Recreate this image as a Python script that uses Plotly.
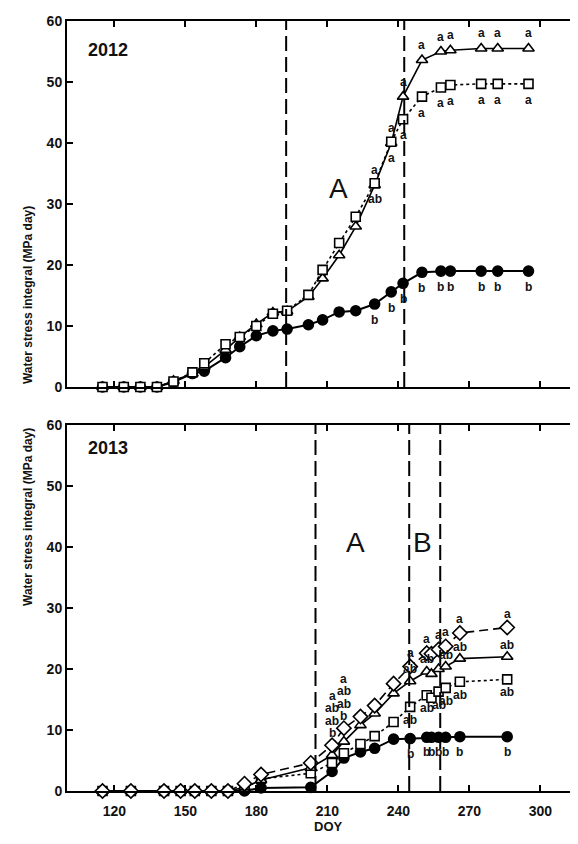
import plotly.graph_objects as go
from plotly.subplots import make_subplots

# ---------------- data ----------------
doy_2012 = [115, 124, 131, 138, 145, 153, 158, 167, 173, 180, 187, 193, 202, 208, 215,
            222, 230, 237, 242, 250, 258, 262, 275, 282, 295]
circ_2012 = [0, 0, 0, 0, 0.8, 2.2, 2.6, 4.8, 6.6, 8.4, 9.2, 9.5, 10.2, 11.0, 12.3,
             12.5, 13.6, 15.6, 17.0, 18.8, 19.0, 19.0, 19.0, 19.0, 19.0]
tri_2012 = [0, 0, 0, 0, 1.0, 2.2, 3.3, 6.1, 8.2, 10.3, 12.2, 12.4, 14.8, 17.8, 21.6,
            26.3, 33.1, 40.0, 47.6, 53.6, 55.0, 55.2, 55.5, 55.5, 55.5]
sq_2012 = [0, 0, 0, 0, 0.9, 2.4, 3.9, 7.0, 8.2, 10.0, 12.0, 12.5, 15.1, 19.2, 23.6,
           27.9, 33.4, 40.2, 43.9, 47.6, 49.1, 49.5, 49.7, 49.7, 49.7]

doy_2013 = [115, 127, 141, 148, 154, 161, 168, 175, 182, 203, 212, 217, 224, 230, 238,
            245, 252, 254, 257, 260, 266, 286]
circ_2013 = [0, 0, 0, 0, 0, 0, 0, 0, 0.5, 0.6, 3.2, 5.4, 6.4, 7.0, 8.5,
             8.6, 8.8, 8.8, 8.8, 8.8, 8.9, 8.9]
dia_2013 = [0, 0, 0, 0, 0, 0, 0, 1.2, 2.7, 4.6, 7.5, 10.3, 12.2, 14.0, 17.6,
            20.4, 22.6, 22.5, 23.2, 23.7, 25.9, 26.8]
tri_2013 = [0, 0, 0, 0, 0, 0, 0, 0.6, 1.8, 3.8, 5.9, 8.1, 10.8, 12.7, 16.0,
            18.0, 19.6, 19.2, 20.0, 20.4, 21.7, 22.0]
sq_2013 = [0, 0, 0, 0, 0, 0, 0, 0.4, 2.0, 2.9, 4.6, 6.2, 7.7, 9.0, 11.3,
           13.8, 15.7, 15.3, 16.3, 16.9, 17.9, 18.3]

# period boundaries (DOY)
periods_2012 = [192.6, 242.5]
periods_2013 = [205.0, 244.6, 257.7]

# significance letters (DOY -> letter)
tri_2012_letters = {230: "a", 237: "a", 242: "a", 250: "a", 258: "a", 262: "a", 275: "a", 282: "a", 295: "a"}
sq_2012_letters = {230: "ab", 237: "a", 242: "a", 250: "a", 258: "a", 262: "a", 275: "a", 282: "a", 295: "a"}
circ_2012_letters = {230: "b", 237: "b", 242: "b", 250: "b", 258: "b", 262: "b", 275: "b", 282: "b", 295: "b"}

dia_2013_letters = {245: "a", 252: "a", 257: "a", 260: "a", 266: "a", 286: "a"}
tri_2013_letters = {245: "ab", 252: "ab", 260: "ab", 266: "ab", 286: "ab"}
sq_2013_letters = {245: "ab", 252: "ab", 257: "ab", 260: "ab", 266: "ab", 286: "ab"}
circ_2013_letters = {245: "b", 252: "b", 254: "b", 257: "b", 260: "b", 266: "b", 286: "b"}
stack_2013_letters = {212: ["b", "ab", "ab", "a"], 217: ["b", "ab", "ab", "a"]}

x_ticks = [120, 150, 180, 210, 240, 270, 300]
y_ticks = [0, 10, 20, 30, 40, 50, 60]

# ---------------- figure ----------------
FONT = "Liberation Sans, Arial, sans-serif"
fig = make_subplots(rows=2, cols=1)


def add_series(row, x, y, symbol, size, fill, dash, lw):
    fig.add_trace(go.Scatter(
        x=x, y=y, mode="lines+markers", cliponaxis=False,
        line=dict(color="black", width=lw, dash=dash),
        marker=dict(symbol=symbol, size=size, color=fill,
                    line=dict(color="black", width=1.6)),
        showlegend=False), row=row, col=1)


# 2012 panel
add_series(1, doy_2012, circ_2012, "circle", 10, "black", "solid", 2)
add_series(1, doy_2012, tri_2012, "triangle-up", 10, "white", "solid", 1.6)
add_series(1, doy_2012, sq_2012, "square", 9, "white", "dot", 1.6)

# 2013 panel
add_series(2, doy_2013, circ_2013, "circle", 10, "black", "solid", 2)
add_series(2, doy_2013, sq_2013, "square", 9, "white", "dot", 1.6)
add_series(2, doy_2013, tri_2013, "triangle-up", 10, "white", "solid", 1.6)
add_series(2, doy_2013, dia_2013, "diamond", 11, "white", "9px,5px", 1.6)

# dashed period lines
for row, periods in ((1, periods_2012), (2, periods_2013)):
    sfx = "" if row == 1 else "2"
    for p in periods:
        fig.add_shape(type="line", x0=p, x1=p, y0=0, y1=60, xref="x" + sfx, yref="y" + sfx,
                      line=dict(color="black", width=2, dash="15px,6px"))

letter_font = dict(family=FONT, size=12, color="#111", weight="bold")


def add_letters(row, days, vals, letters, shift):
    xr = "x" if row == 1 else "x2"
    yr = "y" if row == 1 else "y2"
    for d, l in letters.items():
        v = vals[days.index(d)]
        fig.add_annotation(x=d, y=v, xref=xr, yref=yr, text=l, showarrow=False,
                           yshift=shift, font=letter_font)


add_letters(1, doy_2012, tri_2012, tri_2012_letters, 15)
add_letters(1, doy_2012, sq_2012, sq_2012_letters, -16)
add_letters(1, doy_2012, circ_2012, circ_2012_letters, -16)

add_letters(2, doy_2013, dia_2013, dia_2013_letters, 14)
add_letters(2, doy_2013, tri_2013, tri_2013_letters, 12)
add_letters(2, doy_2013, sq_2013, sq_2013_letters, -13)
add_letters(2, doy_2013, circ_2013, circ_2013_letters, -15)
for d, stack in stack_2013_letters.items():
    v = dia_2013[doy_2013.index(d)]
    for i, l in enumerate(stack):
        fig.add_annotation(x=d, y=v, xref="x2", yref="y2", text=l, showarrow=False,
                           yshift=12 + 12.5 * i, font=letter_font)

# panel texts
big = dict(family=FONT, size=28, color="#111")
fig.add_annotation(x=214.6, y=32.6, xref="x", yref="y", text="A", showarrow=False, font=big)
fig.add_annotation(x=221.8, y=40.7, xref="x2", yref="y2", text="A", showarrow=False, font=big)
fig.add_annotation(x=250.1, y=40.7, xref="x2", yref="y2", text="B", showarrow=False, font=big)
yr_font = dict(family=FONT, size=18, color="#111", weight="bold")
fig.add_annotation(x=117.4, y=55.2, xref="x", yref="y", text="2012", showarrow=False, font=yr_font)
fig.add_annotation(x=117.4, y=56.2, xref="x2", yref="y2", text="2013", showarrow=False, font=yr_font)

# axis titles
title_font = dict(family=FONT, size=12, color="#111", weight="bold")
for yc in (0.7623, 0.2377):
    fig.add_annotation(x=-0.0925, y=yc, xref="paper", yref="paper",
                       text="Water stress integral (MPa day)", textangle=-90,
                       showarrow=False, font=title_font)
fig.add_annotation(x=0.503, y=-0.058, xref="paper", yref="paper", text="DOY",
                   showarrow=False, font=dict(family=FONT, size=13, color="#111", weight="bold"))

tick_font = dict(family=FONT, size=14, color="#111", weight="bold")
axis_common = dict(showline=True, linecolor="black", linewidth=2, ticks="inside",
                   ticklen=6, tickwidth=1.5, tickcolor="black", showgrid=False,
                   zeroline=False, tickfont=tick_font, automargin=False)

fig.update_xaxes(range=[100, 319.3], tickvals=x_ticks, mirror="ticks", **axis_common)
fig.update_yaxes(range=[0, 60], tickvals=y_ticks, mirror=False, **axis_common)
fig.update_xaxes(showticklabels=False, row=1, col=1)
fig.update_xaxes(ticklabelstandoff=6, row=2, col=1)

fig.update_layout(
    width=578, height=844,
    margin=dict(l=59, r=0, t=13, b=61, autoexpand=False),
    paper_bgcolor="white", plot_bgcolor="white",
    xaxis=dict(domain=[0, 1]), xaxis2=dict(domain=[0, 1]),
    yaxis=dict(domain=[0.5247, 1]), yaxis2=dict(domain=[0, 0.4753]),
)

fig.write_html("out.html")
